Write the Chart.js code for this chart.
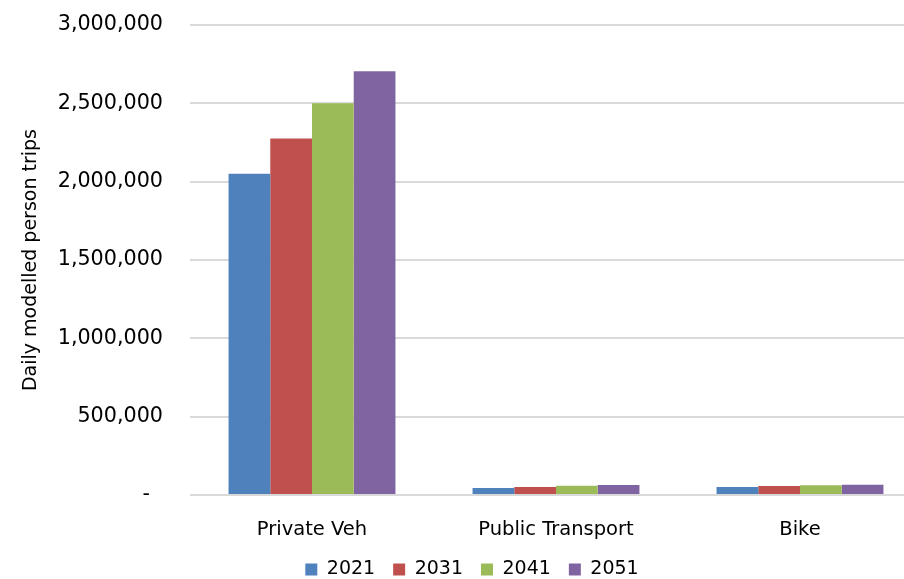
<!DOCTYPE html>
<html lang="en">
<head>
  <meta charset="UTF-8" />
  <title>Daily modelled person trips by mode</title>
  <script src="https://cdn.jsdelivr.net/npm/chart.js"></script>
  <style>
    body {
      margin: 0;
      background: #ffffff;
      overflow: hidden;
    }

    /* slightly larger than the window, the right and bottom edges run off-page */
    .chart-box {
      position: absolute;
      left: 0;
      top: 0;
      width: 941px;
      height: 589px;
    }
  </style>
</head>
<body>
  <div class="chart-box">
    <canvas id="tripsChart"></canvas>
  </div>

  <script>
    const modes = ['Private Veh', 'Public Transport', 'Bike'];
    const years = ['2021', '2031', '2041', '2051'];

    // daily person trips per mode, one list per model year
    const trips2021 = [2050000, 45000, 51000];
    const trips2031 = [2275000, 51000, 57000];
    const trips2041 = [2500000, 59000, 62000];
    const trips2051 = [2705000, 64000, 66000];

    const yTicks = [0, 500000, 1000000, 1500000, 2000000, 2500000, 3000000];
    const yTitle = 'Daily modelled person trips';

    const colors = ['#4f81bd', '#c0504d', '#9bbb59', '#8064a2'];
    const series = [trips2021, trips2031, trips2041, trips2051];

    Chart.defaults.font.family = '"DejaVu Sans", sans-serif';
    Chart.defaults.color = '#000000';

    const fmt = v => v === 0 ? '-  ' : v.toLocaleString('en-US');

    const ctx = document.getElementById('tripsChart').getContext('2d');
    new Chart(ctx, {
      type: 'bar',
      data: {
        labels: modes,
        datasets: years.map((y, i) => ({
          label: y,
          data: series[i],
          backgroundColor: colors[i],
          borderWidth: 0,
          barPercentage: 1,
          categoryPercentage: 0.684
        }))
      },
      options: {
        responsive: true,
        maintainAspectRatio: false,
        animation: false,
        layout: { padding: { top: 25, right: 19, left: 22, bottom: 0 } },
        scales: {
          x: {
            grid: { display: false },
            border: { display: false },
            ticks: { font: { size: 19.5 }, padding: 15 },
            afterFit: s => { s.height = 47; }
          },
          y: {
            min: 0,
            max: yTicks[yTicks.length - 1],
            afterBuildTicks: s => { s.ticks = yTicks.map(v => ({ value: v })); },
            afterFit: s => {
              // fixed axis width; top label overflow is covered by layout padding
              s.width = 168;
              s.paddingTop = 0;
              s.paddingBottom = 0;
            },
            grid: { color: '#d9d9d9', lineWidth: 2, drawTicks: false },
            border: { display: false },
            ticks: {
              font: { size: 20.7 },
              padding: 27,
              callback: v => fmt(v)
            },
            title: {
              display: true,
              text: yTitle,
              font: { size: 19, lineHeight: 1 },
              padding: { top: 0, bottom: 0 }
            }
          }
        },
        plugins: {
          legend: {
            position: 'bottom',
            labels: {
              boxWidth: 12,
              boxHeight: 12,
              padding: 18,
              font: { size: 19 }
            }
          },
          tooltip: { enabled: false }
        }
      }
    });
  </script>
</body>
</html>
